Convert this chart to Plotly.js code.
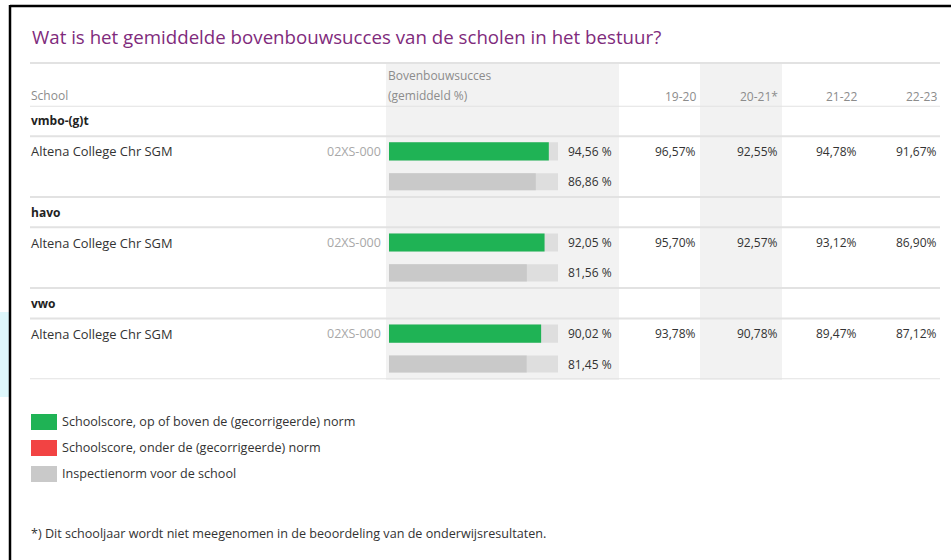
<!DOCTYPE html>
<html>
<head>
<meta charset="utf-8">
<script src="https://cdn.plot.ly/plotly-3.0.1.min.js"></script>
<style>html,body{margin:0;padding:0;background:#fff;}#chart{width:951px;height:560px;}</style>
</head>
<body>
<div id="chart"></div>
<script>
// ---- data ----
const levels = ['vmbo-(g)t', 'havo', 'vwo'];
const schoolName = 'Altena College Chr SGM';
const schoolCode = '02XS-000';
const schoolScore = [94.56, 92.05, 90.02];
const normScore = [86.86, 81.56, 81.45];
const years = ['19-20', '20-21*', '21-22', '22-23'];
const y1920 = [96.57, 95.70, 93.78];
const y2021 = [92.55, 92.57, 90.78];
const y2122 = [94.78, 93.12, 89.47];
const y2223 = [91.67, 86.90, 87.12];
const yearValues = [y1920, y2021, y2122, y2223];
const legendLabels = ['Schoolscore, op of boven de (gecorrigeerde) norm', 'Schoolscore, onder de (gecorrigeerde) norm', 'Inspectienorm voor de school'];
const titleText = 'Wat is het gemiddelde bovenbouwsucces van de scholen in het bestuur?';
const footnote = '*) Dit schooljaar wordt niet meegenomen in de beoordeling van de onderwijsresultaten.';

// ---- styling ----
const W = 951, H = 560;
const px = x => x / W;
const py = y => 1 - y / H;
const FONT = '"Open Sans", "Noto Sans", sans-serif';
const GREEN = '#1fb355', RED = '#f24343', NORM = '#c9c9c9', TRACK = '#dedede';
const TEXT = '#333333', MUTED = '#8c8c8c', LINE = '#e2e2e2';
const fmt = v => v.toFixed(2).replace('.', ',');

const rows = [];
levels.forEach((l, i) => { rows.push('h' + i, 's' + i, 'n' + i); });
const sRows = levels.map((l, i) => 's' + i);
const nRows = levels.map((l, i) => 'n' + i);

const traces = [
  {type: 'bar', orientation: 'h', y: sRows.concat(nRows), x: sRows.concat(nRows).map(() => 100),
   width: sRows.map(() => 0.6).concat(nRows.map(() => 0.56)),
   marker: {color: TRACK}, hoverinfo: 'skip', showlegend: false},
  {type: 'bar', orientation: 'h', y: sRows, x: schoolScore, width: 0.6,
   marker: {color: schoolScore.map((v, i) => v >= normScore[i] ? GREEN : RED)}, showlegend: false},
  {type: 'bar', orientation: 'h', y: nRows, x: normScore, width: 0.56,
   marker: {color: NORM}, showlegend: false}
];

const shapes = [];
const ann = [];
// column backgrounds
shapes.push({type: 'rect', xref: 'paper', yref: 'paper', x0: px(386), x1: px(619), y0: py(63), y1: py(380), fillcolor: '#f2f2f2', line: {width: 0}, layer: 'below'});
shapes.push({type: 'rect', xref: 'paper', yref: 'paper', x0: px(700), x1: px(782), y0: py(63), y1: py(380), fillcolor: '#f2f2f2', line: {width: 0}, layer: 'below'});
// horizontal rules
const hline = (y, yref) => ({type: 'line', xref: 'paper', yref: yref, x0: px(30), x1: px(940), y0: y, y1: y, line: {color: LINE, width: 2}, layer: 'below'});
shapes.push(hline(py(63), 'paper'));
levels.forEach((l, i) => {
  const h = 3 * i;
  shapes.push(hline(h - 0.5, 'y'));
  shapes.push(hline(h + 0.5, 'y'));
});
shapes.push(hline(rows.length - 0.5, 'y'));
// frame
shapes.push({type: 'rect', xref: 'paper', yref: 'paper', x0: 0, x1: px(9), y0: py(312), y1: py(397), fillcolor: '#def7fb', line: {width: 0}});
shapes.push({type: 'line', xref: 'paper', yref: 'paper', x0: px(10), x1: 1, y0: py(6), y1: py(6), line: {color: '#000', width: 2.5}});
shapes.push({type: 'line', xref: 'paper', yref: 'paper', x0: px(10), x1: px(10), y0: py(5), y1: 0, line: {color: '#000', width: 2.5}});

// title
ann.push({xref: 'paper', yref: 'paper', x: px(30), y: py(37), xanchor: 'left', yanchor: 'middle', showarrow: false,
  text: titleText, font: {family: FONT, size: 18.7, color: '#7f2b7c'}});
// header
const hdr = (t, x, y, anchor) => ann.push({xref: 'paper', yref: 'paper', x: px(x), y: py(y), xanchor: anchor, yanchor: 'middle', showarrow: false, text: t, font: {family: FONT, size: 12, color: MUTED}});
hdr('School', 29, 95, 'left');
hdr('Bovenbouwsucces', 386, 76, 'left');
hdr('(gemiddeld %)', 386, 95, 'left');
const colRight = [698, 780, 859, 939];
years.forEach((yr, j) => hdr(yr, colRight[j], 96, 'right'));

// rows
levels.forEach((l, i) => {
  ann.push({xref: 'paper', yref: 'y', x: px(29), y: 'h' + i, xanchor: 'left', yanchor: 'middle', showarrow: false,
    text: '<b>' + l + '</b>', font: {family: FONT, size: 12, color: '#222'}});
  ann.push({xref: 'paper', yref: 'y', x: px(29), y: 's' + i, xanchor: 'left', yanchor: 'middle', showarrow: false,
    text: schoolName, font: {family: FONT, size: 12.9, color: TEXT}});
  ann.push({xref: 'paper', yref: 'y', x: px(383), y: 's' + i, xanchor: 'right', yanchor: 'middle', showarrow: false,
    text: schoolCode, font: {family: FONT, size: 12.5, color: '#a8a8a8'}});
  ann.push({xref: 'paper', yref: 'y', x: px(614), y: 's' + i, xanchor: 'right', yanchor: 'middle', showarrow: false,
    text: fmt(schoolScore[i]) + ' %', font: {family: FONT, size: 12, color: TEXT}});
  ann.push({xref: 'paper', yref: 'y', x: px(614), y: 'n' + i, xanchor: 'right', yanchor: 'middle', showarrow: false,
    text: fmt(normScore[i]) + ' %', font: {family: FONT, size: 12, color: TEXT}});
  yearValues.forEach((arr, j) => {
    ann.push({xref: 'paper', yref: 'y', x: px(colRight[j]), y: 's' + i, xanchor: 'right', yanchor: 'middle', showarrow: false,
      text: fmt(arr[i]) + '%', font: {family: FONT, size: 12, color: TEXT}});
  });
});

// legend
const legColors = [GREEN, RED, NORM];
const legY = [422, 448, 474];
legendLabels.forEach((t, k) => {
  shapes.push({type: 'rect', xref: 'paper', yref: 'paper', x0: px(31), x1: px(57), y0: py(legY[k] - 8), y1: py(legY[k] + 8), fillcolor: legColors[k], line: {width: 0}});
  ann.push({xref: 'paper', yref: 'paper', x: px(60), y: py(legY[k] - 1), xanchor: 'left', yanchor: 'middle', showarrow: false,
    text: t, font: {family: FONT, size: 12.6, color: TEXT}});
});
ann.push({xref: 'paper', yref: 'paper', x: px(29), y: py(533), xanchor: 'left', yanchor: 'middle', showarrow: false,
  text: footnote, font: {family: FONT, size: 12.6, color: TEXT}});

const layout = {
  width: W, height: H, margin: {l: 0, r: 0, t: 0, b: 0},
  paper_bgcolor: '#fff', plot_bgcolor: 'rgba(0,0,0,0)',
  barmode: 'overlay', showlegend: false,
  xaxis: {domain: [px(389), px(558)], range: [0, 100], visible: false, fixedrange: true},
  yaxis: {type: 'category', categoryarray: rows, categoryorder: 'array', range: [rows.length - 0.5, -0.5],
    domain: [py(379.2), py(105.8)], visible: false, fixedrange: true},
  shapes: shapes, annotations: ann, font: {family: FONT}
};
Plotly.newPlot('chart', traces, layout, {displayModeBar: false, staticPlot: true});
</script>
</body>
</html>
